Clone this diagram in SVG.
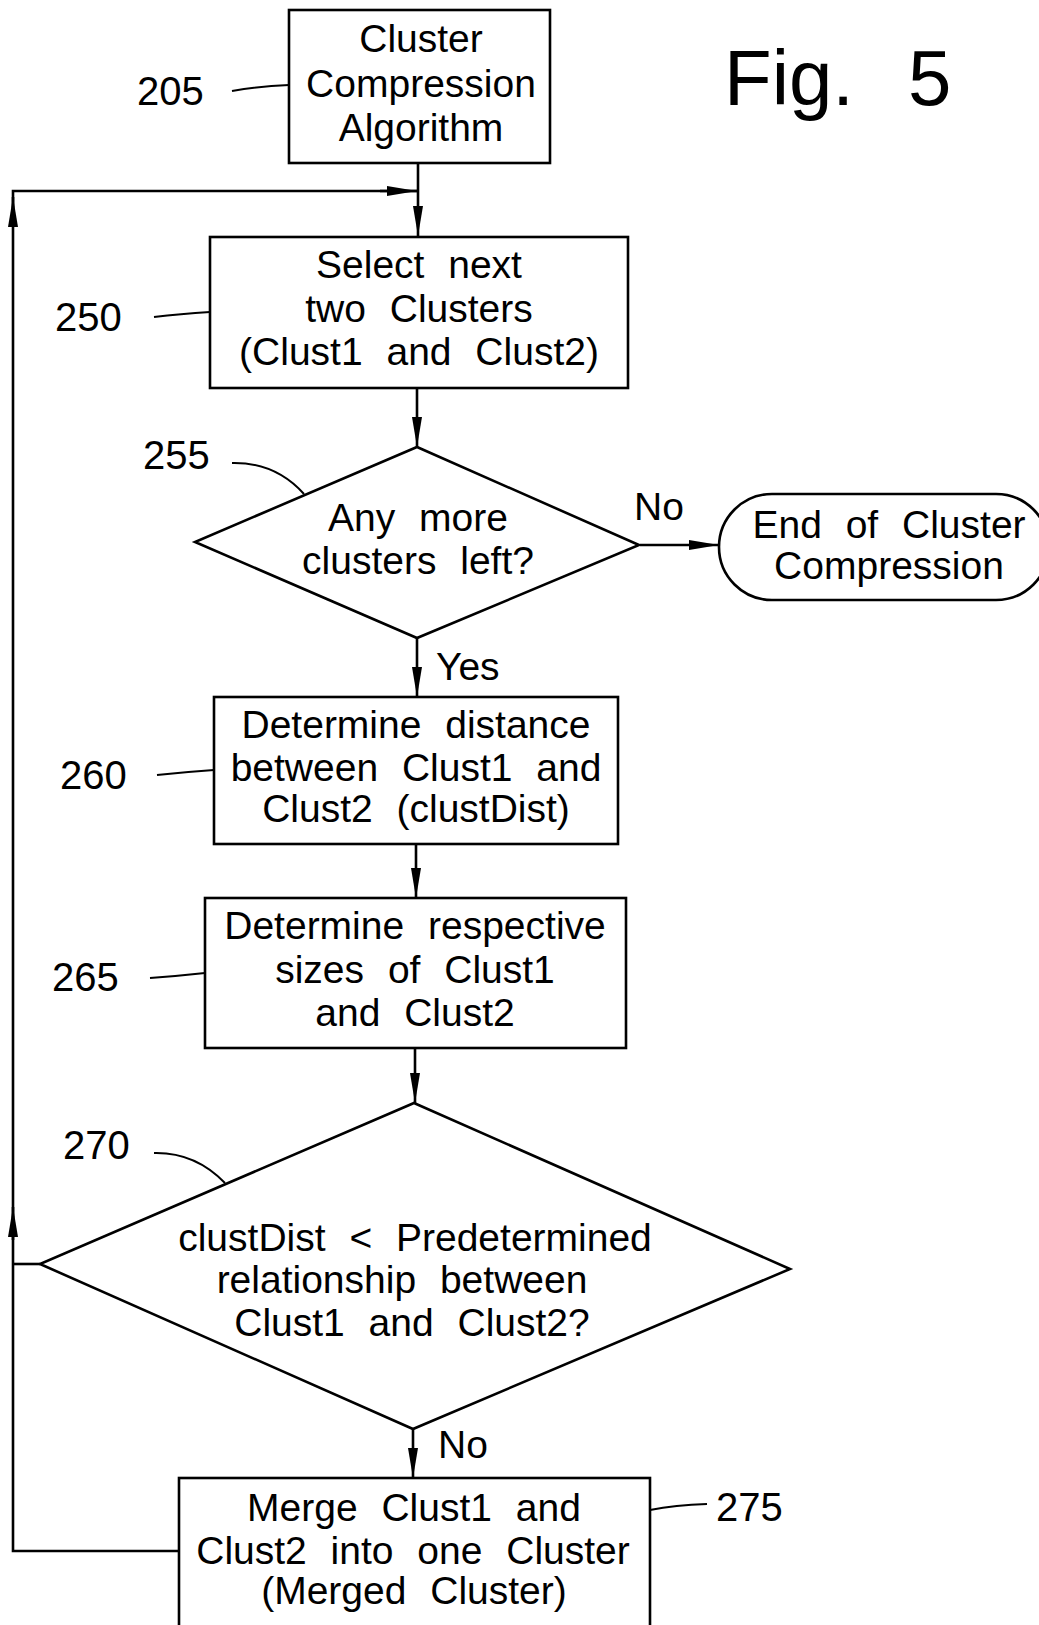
<svg xmlns="http://www.w3.org/2000/svg" width="1039" height="1625" viewBox="0 0 1039 1625">
<style>
  .shape { fill: #ffffff; stroke: #000000; stroke-width: 2.6; }
  .line { fill: none; stroke: #000000; stroke-width: 2.6; }
  .leader { fill: none; stroke: #000000; stroke-width: 2; }
  .txt { font-family: "Liberation Sans", Arial, sans-serif; font-size: 39px; fill: #000000; text-anchor: middle; word-spacing: 13px; }
  .lbl { font-family: "Liberation Sans", Arial, sans-serif; font-size: 40px; fill: #000000; }
  .edge { font-family: "Liberation Sans", Arial, sans-serif; font-size: 39px; fill: #000000; }
  .fig { font-family: "Liberation Sans", Arial, sans-serif; font-size: 78px; fill: #000000; }
</style>
<defs>
  <marker id="arrow" markerUnits="userSpaceOnUse" markerWidth="30" markerHeight="10" viewBox="0 0 30 10" refX="30" refY="5" orient="auto">
    <path d="M0,0 L30,5 L0,10 z" fill="#000000"/>
  </marker>
</defs>
<rect width="1039" height="1625" fill="#ffffff"/>

<text class="fig"><tspan x="724" y="105">Fig.</tspan><tspan x="908" y="105">5</tspan></text>

<g id="connectors">
  <path class="line" d="M418,163 V236" marker-end="url(#arrow)"/>
  <path class="line" d="M179,1551 H13 V191 H418"/>
  <path class="line" d="M40,1264 H13"/>
  <path class="line" d="M13,1240 V1207" marker-end="url(#arrow)"/>
  <path class="line" d="M13,226 V197" marker-end="url(#arrow)"/>
  <path class="line" d="M380,191 H417" marker-end="url(#arrow)"/>
  <path class="line" d="M417,388 V447" marker-end="url(#arrow)"/>
  <path class="line" d="M640,545 H719" marker-end="url(#arrow)"/>
  <path class="line" d="M417,638 V697" marker-end="url(#arrow)"/>
  <path class="line" d="M416,844 V898" marker-end="url(#arrow)"/>
  <path class="line" d="M415,1048 V1103" marker-end="url(#arrow)"/>
  <path class="line" d="M413,1429 V1478" marker-end="url(#arrow)"/>
  <text class="edge" x="634" y="520">No</text>
  <text class="edge" x="436" y="680">Yes</text>
  <text class="edge" x="438" y="1458">No</text>
</g>

<g id="n205">
  <rect class="shape" x="289" y="10" width="261" height="153"/>
  <text class="txt" x="421" y="52">Cluster</text>
  <text class="txt" x="421" y="97">Compression</text>
  <text class="txt" x="421" y="141">Algorithm</text>
  <path class="leader" d="M232,91 Q260,86 289,85"/>
  <text class="lbl" x="137" y="105">205</text>
</g>

<g id="n250">
  <rect class="shape" x="210" y="237" width="418" height="151"/>
  <text class="txt" x="419" y="278">Select next</text>
  <text class="txt" x="419" y="322">two Clusters</text>
  <text class="txt" x="419" y="365">(Clust1 and Clust2)</text>
  <path class="leader" d="M154,317 Q180,314 210,312"/>
  <text class="lbl" x="55" y="331">250</text>
</g>

<g id="n255">
  <polygon class="shape" points="417,447 639,545 417,638 195,542"/>
  <text class="txt" x="418" y="531">Any more</text>
  <text class="txt" x="418" y="574">clusters left?</text>
  <path class="leader" d="M232,463 Q275,462 304,494"/>
  <text class="lbl" x="143" y="469">255</text>
</g>

<g id="nEnd">
  <rect class="shape" x="719" y="494" width="330" height="106" rx="53" ry="53"/>
  <text class="txt" x="889" y="538">End of Cluster</text>
  <text class="txt" x="889" y="579">Compression</text>
</g>

<g id="n260">
  <rect class="shape" x="214" y="697" width="404" height="147"/>
  <text class="txt" x="416" y="738">Determine distance</text>
  <text class="txt" x="416" y="781">between Clust1 and</text>
  <text class="txt" x="416" y="822">Clust2 (clustDist)</text>
  <path class="leader" d="M157,775 Q185,772 214,770"/>
  <text class="lbl" x="60" y="789">260</text>
</g>

<g id="n265">
  <rect class="shape" x="205" y="898" width="421" height="150"/>
  <text class="txt" x="415" y="939">Determine respective</text>
  <text class="txt" x="415" y="983">sizes of Clust1</text>
  <text class="txt" x="415" y="1026">and Clust2</text>
  <path class="leader" d="M150,978 Q178,976 205,973"/>
  <text class="lbl" x="52" y="991">265</text>
</g>

<g id="n270">
  <polygon class="shape" points="414,1103 790,1269 413,1429 40,1264"/>
  <text class="txt" x="415" y="1251">clustDist &lt; Predetermined</text>
  <text class="txt" x="402" y="1293">relationship between</text>
  <text class="txt" x="412" y="1336">Clust1 and Clust2?</text>
  <path class="leader" d="M154,1153 Q195,1152 225,1183"/>
  <text class="lbl" x="63" y="1159">270</text>
</g>

<g id="n275">
  <rect class="shape" x="179" y="1478" width="471" height="170"/>
  <text class="txt" x="414" y="1521">Merge Clust1 and</text>
  <text class="txt" x="413" y="1564">Clust2 into one Cluster</text>
  <text class="txt" x="414" y="1604">(Merged Cluster)</text>
  <path class="leader" d="M650,1510 Q675,1505 707,1504"/>
  <text class="lbl" x="716" y="1521">275</text>
</g>
</svg>
